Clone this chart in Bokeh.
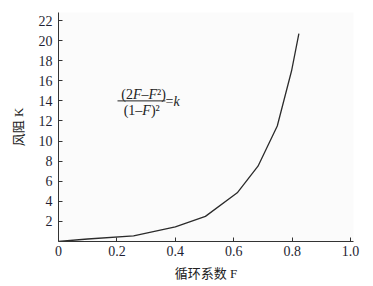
import math
from bokeh.plotting import figure
from bokeh.models import FixedTicker, Label, ColumnDataSource
from bokeh.embed import file_html
from bokeh.resources import INLINE

# data
F_vals = [0.0, 0.1, 0.257, 0.40, 0.503, 0.612, 0.683, 0.749, 0.798, 0.823]
K_vals = [0.0, 0.25, 0.57, 1.45, 2.5, 4.85, 7.5, 11.5, 17.0, 20.7]
x_ticks = [0, 0.2, 0.4, 0.6, 0.8, 1.0]
x_tick_labels = ["0", "0.2", "0.4", "0.6", "0.8", "1.0"]
y_ticks = [2, 4, 6, 8, 10, 12, 14, 16, 18, 20, 22]
x_title = "循环系数 F"
y_title = "风阻 K"

SERIF = "Liberation Serif"
MIXED = "'Liberation Serif', 'Noto Sans CJK SC'"

p = figure(width=365, height=283, x_range=(0, 1.01), y_range=(0, 22.8),
           output_backend="svg", toolbar_location=None,
           min_border_left=58, min_border_right=12, min_border_top=12, min_border_bottom=38)
p.background_fill_color = "#fbfbfb"
p.border_fill_color = "white"
p.outline_line_color = None
p.xgrid.visible = False
p.ygrid.visible = False

src = ColumnDataSource(dict(F=F_vals, K=K_vals))
p.line("F", "K", source=src, line_color="#2b2b2b", line_width=1.3)

for ax in (p.xaxis[0], p.yaxis[0]):
    ax.axis_line_color = "#333333"
    ax.axis_line_width = 1
    ax.major_tick_in = 4
    ax.major_tick_out = 0
    ax.minor_tick_in = 0
    ax.minor_tick_out = 0
    ax.major_tick_line_color = "#333333"
    ax.major_label_text_font = SERIF
    ax.major_label_text_font_size = "14px"
    ax.major_label_text_color = "#1f1f33"
    ax.axis_label_text_font = MIXED
    ax.axis_label_text_font_size = "13px"
    ax.axis_label_text_font_style = "normal"
    ax.axis_label_text_color = "#222222"

p.xaxis[0].ticker = FixedTicker(ticks=x_ticks)
p.xaxis[0].major_label_overrides = {t: s for t, s in zip(x_ticks, x_tick_labels)}
p.xaxis[0].major_label_standoff = 4
p.xaxis[0].axis_label = x_title
p.xaxis[0].axis_label_standoff = 7
p.yaxis[0].ticker = FixedTicker(ticks=y_ticks)
p.yaxis[0].major_label_standoff = 6
p.yaxis[0].axis_label = y_title
p.yaxis[0].axis_label_standoff = 10


def lab(x, y, text, style="normal", xo=0):
    p.add_layout(Label(x=x, y=y, text=text, text_font=SERIF, text_font_style=style,
                       text_font_size="14px", text_align="left", text_baseline="middle",
                       x_offset=xo, text_color="#222222"))

# formula (2F–F²)/(1–F)² = k
nx, ny = 0.215, 14.6
for t, st, off in [("(2", "normal", 0.0), ("F", "italic", 11.6), ("–", "normal", 20.2),
                   ("F", "italic", 27.2), ("²)", "normal", 35.8)]:
    lab(nx, ny, t, st, off)
dx, dy = 0.223, 13.0
for t, st, off in [("(1–", "normal", 0.0), ("F", "italic", 18.7), (")²", "normal", 27.3)]:
    lab(dx, dy, t, st, off)
p.segment(x0=[0.202], y0=[14.0], x1=[0.366], y1=[14.0], line_color="#222222", line_width=1)
lab(0.366, 13.9, "=")
lab(0.366, 13.9, "k", "italic", 8.0)

open("out.html", "w").write(file_html(p, INLINE))
